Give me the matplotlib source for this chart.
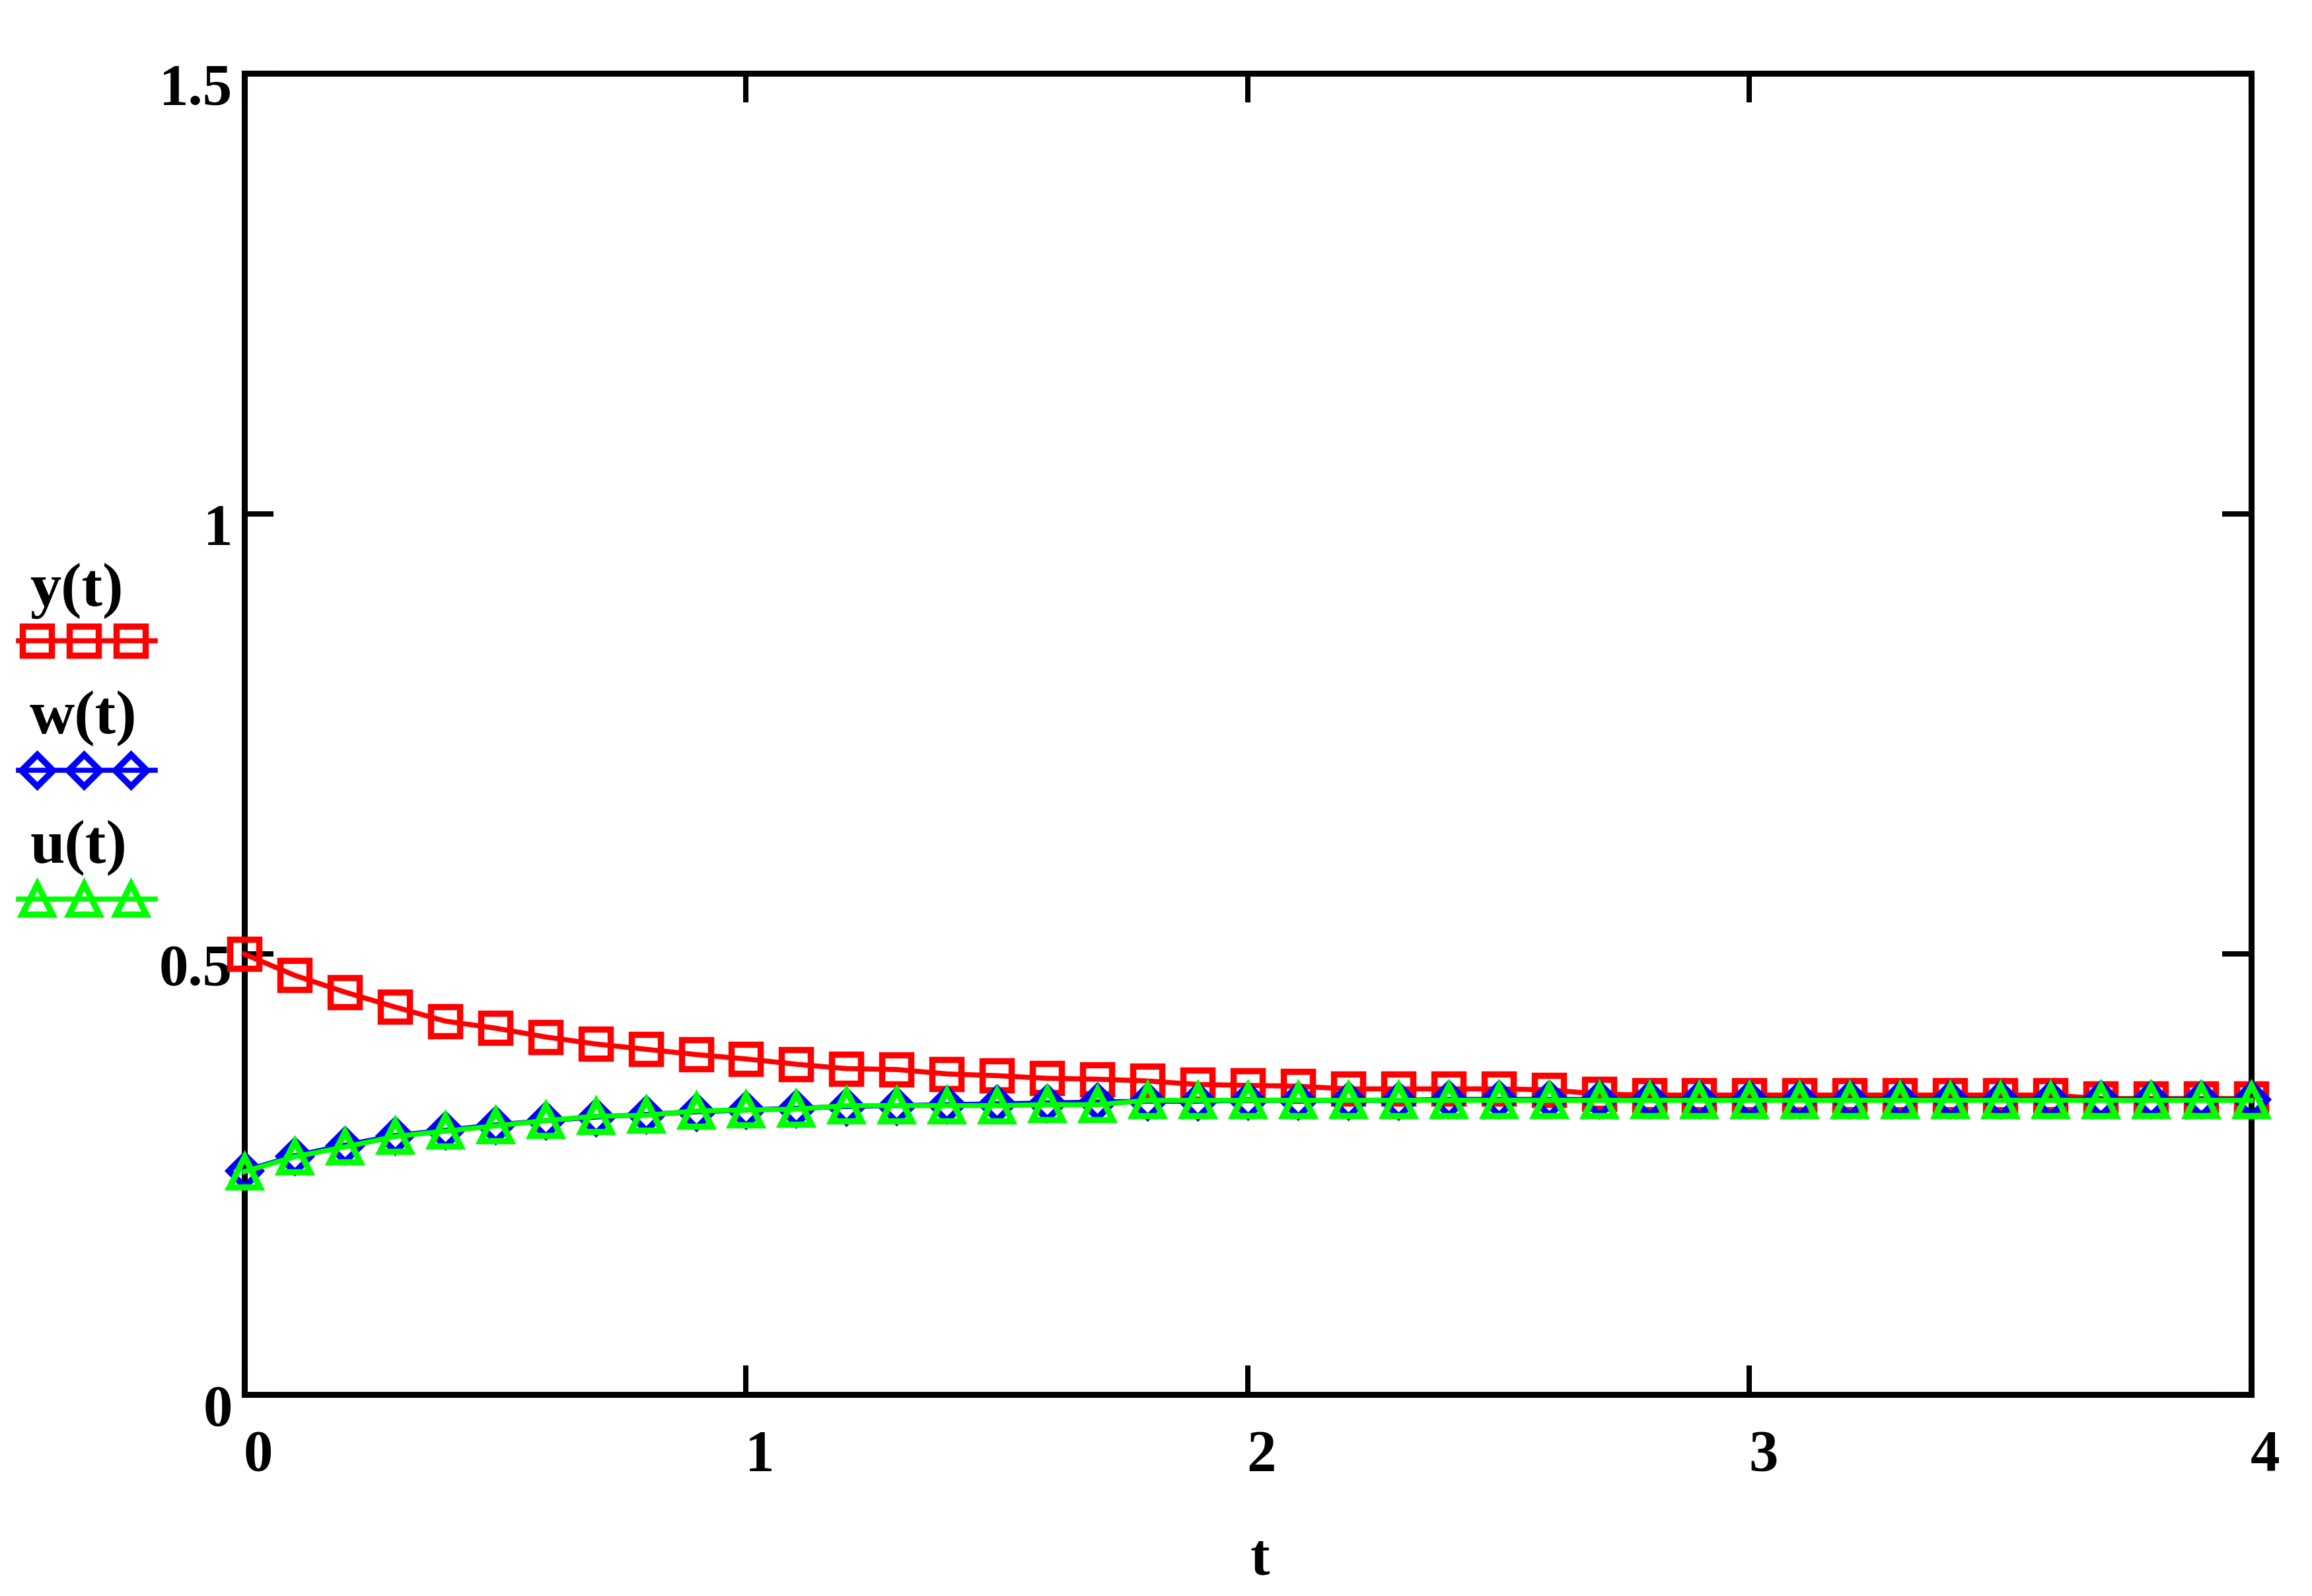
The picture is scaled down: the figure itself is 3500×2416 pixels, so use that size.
import matplotlib
matplotlib.use("Agg")
import matplotlib.pyplot as plt
from matplotlib.lines import Line2D
from matplotlib.transforms import ScaledTranslation

# ---- data ----
t = [0.0, 0.1, 0.2, 0.3, 0.4, 0.5, 0.6, 0.7, 0.8, 0.9,
     1.0, 1.1, 1.2, 1.3, 1.4, 1.5, 1.6, 1.7, 1.8, 1.9,
     2.0, 2.1, 2.2, 2.3, 2.4, 2.5, 2.6, 2.7, 2.8, 2.9,
     3.0, 3.1, 3.2, 3.3, 3.4, 3.5, 3.6, 3.7, 3.8, 3.9, 4.0]

y_vals = [0.500, 0.476, 0.457, 0.440, 0.424, 0.416, 0.406, 0.398, 0.392, 0.386,
          0.381, 0.375, 0.370, 0.369, 0.364, 0.362, 0.359, 0.358, 0.356, 0.352,
          0.351, 0.350, 0.347, 0.347, 0.347, 0.347, 0.346, 0.341, 0.340, 0.340,
          0.340, 0.340, 0.340, 0.340, 0.340, 0.340, 0.340, 0.336, 0.336, 0.336, 0.336]

w_vals = [0.254, 0.271, 0.283, 0.294, 0.300, 0.306, 0.311, 0.315, 0.318, 0.321,
          0.323, 0.325, 0.327, 0.328, 0.329, 0.330, 0.331, 0.332, 0.333, 0.333,
          0.334, 0.334, 0.334, 0.334, 0.335, 0.335, 0.335, 0.335, 0.335, 0.335,
          0.335, 0.335, 0.335, 0.335, 0.335, 0.335, 0.335, 0.335, 0.335, 0.335, 0.335]

u_vals = [0.253, 0.270, 0.281, 0.293, 0.299, 0.305, 0.311, 0.316, 0.317, 0.322,
          0.323, 0.324, 0.328, 0.328, 0.328, 0.328, 0.329, 0.329, 0.334, 0.334,
          0.334, 0.334, 0.334, 0.334, 0.334, 0.334, 0.334, 0.334, 0.334, 0.334,
          0.334, 0.334, 0.334, 0.334, 0.334, 0.334, 0.334, 0.334, 0.334, 0.334, 0.334]

x_ticks = [0, 1, 2, 3, 4]
x_tick_labels = ["0", "1", "2", "3", "4"]
y_ticks = [0, 0.5, 1, 1.5]
y_tick_labels = ["0", "0.5", "1", "1.5"]

series_labels = ["y(t)", "w(t)", "u(t)"]
x_label = "t"

# ---- style ----
plt.rcParams["font.family"] = ["Liberation Serif", "DejaVu Serif"]
plt.rcParams["font.weight"] = "bold"
FS = 64

RED, BLUE, GREEN = "#FF0000", "#0000FF", "#00FF00"
LW = 5.5
MEW = 6.8
MS_SQ = 32
MS_TRI = 33
MS_DIA = 24

fig = plt.figure(figsize=(35, 24.16), dpi=100)
ax = fig.add_axes([0.1057, 0.12624, 0.9737 - 0.1057, 0.95406 - 0.12624])

styles = [
    dict(color=RED, marker="s", ms=MS_SQ),
    dict(color=BLUE, marker="D", ms=MS_DIA),
    dict(color=GREEN, marker="^", ms=MS_TRI),
]
for vals, st in zip([y_vals, w_vals, u_vals], styles):
    ax.plot(t, vals, color=st["color"], lw=LW, marker=st["marker"],
            ms=st["ms"], mfc="none", mec=st["color"], mew=MEW,
            solid_joinstyle="miter", clip_on=False, zorder=3)

ax.set_xlim(0, 4)
ax.set_ylim(0, 1.5)
ax.set_xticks(x_ticks)
ax.set_xticklabels(x_tick_labels)
ax.set_yticks(y_ticks)
ax.set_yticklabels(y_tick_labels)

for sp in ax.spines.values():
    sp.set_linewidth(6.5)
    sp.set_color("black")

ax.tick_params(axis="both", which="major", direction="in", length=32, width=5.8,
               top=True, right=True, labelsize=FS, color="black")
ax.tick_params(axis="x", pad=38)
ax.tick_params(axis="y", pad=13)

for lab in ax.get_xticklabels():
    lab.set_fontweight("bold")
    lab.set_transform(lab.get_transform() + ScaledTranslation(15 / 72, 0, fig.dpi_scale_trans))
for lab in ax.get_yticklabels():
    lab.set_fontweight("bold")
    lab.set_transform(lab.get_transform() + ScaledTranslation(0, -11 / 72, fig.dpi_scale_trans))

ax.set_xlabel(x_label, fontsize=FS, fontweight="bold")
ax.xaxis.set_label_coords(0.506, -0.1045)

# ---- Mathcad-style legend at the left: label above a sample line ----
text_y = [0.6204, 0.5406, 0.4594]
sample_y = [0.5985, 0.5174, 0.4367]
marker_x = [0.016, 0.0363, 0.0566]
for lab, st, ty, sy in zip(series_labels, styles, text_y, sample_y):
    fig.text(0.0129, ty, lab, fontsize=FS + 4, fontweight="bold", ha="left", va="baseline")
    fig.add_artist(Line2D([0.008, 0.067], [sy, sy], transform=fig.transFigure,
                          color=st["color"], lw=LW))
    fig.add_artist(Line2D(marker_x, [sy] * 3, transform=fig.transFigure,
                          color=st["color"], lw=0, marker=st["marker"], ms=st["ms"],
                          mfc="none", mec=st["color"], mew=MEW))

fig.savefig("out.png", dpi=100, facecolor="white")
